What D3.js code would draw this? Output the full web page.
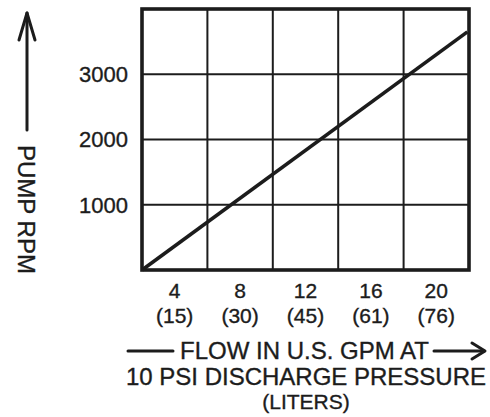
<!DOCTYPE html>
<html>
<head>
<meta charset="utf-8">
<script src="https://cdn.jsdelivr.net/npm/d3@7"></script>
<style>
    html, body { margin: 0; padding: 0; background: #fff; }
    svg { display: block; }
    text { font-family: "Liberation Sans", Arial, Helvetica, sans-serif; fill: #1c1c1c; stroke: #1c1c1c; stroke-width: 0.35px; }
</style>
</head>
<body>
<svg id="chart"></svg>
<script>
// flow in US GPM (labels sit in the middle of each grid cell)
const gpmTicks = [4, 8, 12, 16, 20];
const literTicks = [15, 30, 45, 61, 76];
const gridX = [2, 6, 10, 14, 18, 22];
const rpmTicks = [1000, 2000, 3000];
const gridY = [0, 1000, 2000, 3000, 4000];

// pump rpm vs flow
const flow = [2, 21.9];
const rpm = [0, 3650];

const width = 490;
const height = 417;
const ink = '#1c1c1c';

const svg = d3.select('#chart')
    .attr('width', width)
    .attr('height', height)
    .attr('viewBox', [0, 0, width, height]);

const x = d3.scaleLinear().domain([2, 22]).range([142, 469]);
const y = d3.scaleLinear().domain([0, 4000]).range([270, 9]);

// grid
const grid = svg.append('g')
    .attr('stroke', ink)
    .attr('stroke-width', 2);

grid.selectAll('line.v')
    .data(gridX.slice(1, -1))
    .join('line')
    .attr('class', 'v')
    .attr('x1', d => x(d)).attr('x2', d => x(d))
    .attr('y1', y(0)).attr('y2', y(4000));

grid.selectAll('line.h')
    .data(gridY.slice(1, -1))
    .join('line')
    .attr('class', 'h')
    .attr('x1', x(2)).attr('x2', x(22))
    .attr('y1', d => y(d)).attr('y2', d => y(d));

// the rpm line
const line = d3.line()
    .x(d => x(d[0]))
    .y(d => y(d[1]));

svg.append('path')
    .datum(d3.zip(flow, rpm))
    .attr('fill', 'none')
    .attr('stroke', ink)
    .attr('stroke-width', 3.6)
    .attr('d', line);

// frame
svg.append('rect')
    .attr('x', x(2)).attr('y', y(4000))
    .attr('width', x(22) - x(2))
    .attr('height', y(0) - y(4000))
    .attr('fill', 'none')
    .attr('stroke', ink)
    .attr('stroke-width', 3.6);

// y tick labels
svg.append('g')
    .selectAll('text')
    .data(rpmTicks)
    .join('text')
    .attr('x', 128)
    .attr('y', d => y(d))
    .attr('dy', '0.36em')
    .attr('text-anchor', 'end')
    .attr('font-size', 22)
    .text(d => d);

// x tick labels, gpm and liters
const xt = svg.append('g')
    .attr('text-anchor', 'middle');

xt.selectAll('text.gpm')
    .data(gpmTicks)
    .join('text')
    .attr('class', 'gpm')
    .attr('x', d => x(d))
    .attr('y', 298)
    .attr('font-size', 21)
    .text(d => d);

xt.selectAll('text.lit')
    .data(literTicks)
    .join('text')
    .attr('class', 'lit')
    .attr('x', (d, i) => x(gpmTicks[i]))
    .attr('y', 323)
    .attr('font-size', 21)
    .text(d => `(${d})`);

// x axis title
svg.append('text')
    .attr('x', 180)
    .attr('y', 359)
    .attr('font-size', 24)
    .text('FLOW IN U.S. GPM AT');

svg.append('text')
    .attr('x', 306)
    .attr('y', 385)
    .attr('text-anchor', 'middle')
    .attr('font-size', 24)
    .text('10 PSI DISCHARGE PRESSURE');

svg.append('text')
    .attr('x', 306)
    .attr('y', 409)
    .attr('text-anchor', 'middle')
    .attr('font-size', 21)
    .text('(LITERS)');

const arrows = svg.append('g')
    .attr('fill', 'none')
    .attr('stroke', ink)
    .attr('stroke-width', 3)
    .attr('stroke-linecap', 'round')
    .attr('stroke-linejoin', 'round');

// dash before FLOW and arrow after AT
arrows.append('line')
    .attr('x1', 128).attr('x2', 173)
    .attr('y1', 351).attr('y2', 351);
arrows.append('line')
    .attr('x1', 434).attr('x2', 484)
    .attr('y1', 351).attr('y2', 351);
arrows.append('path')
    .attr('d', 'M472,343 L485,351 L472,359');

// y axis title with arrow
svg.append('text')
    .attr('transform', 'translate(18,145) rotate(90)')
    .attr('font-size', 24)
    .text('PUMP RPM');

arrows.append('line')
    .attr('x1', 27).attr('x2', 27)
    .attr('y1', 130).attr('y2', 13);
arrows.append('path')
    .attr('d', 'M19,40 L27,13 L35,40');
</script>
</body>
</html>
